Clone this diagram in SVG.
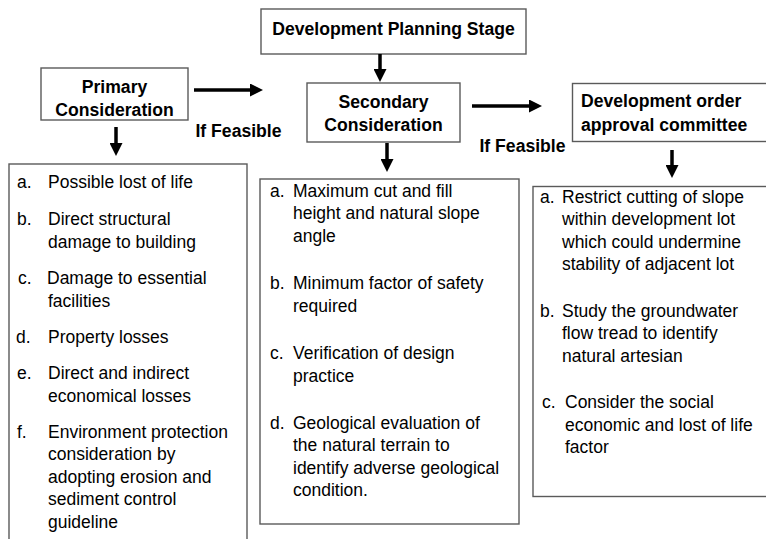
<svg xmlns="http://www.w3.org/2000/svg" width="766" height="539" viewBox="0 0 766 539">
<defs>
<marker id="ah" markerUnits="userSpaceOnUse" markerWidth="13" markerHeight="13" refX="1" refY="6.5" orient="auto">
<path d="M0,0 L13,6.5 L0,13 z" fill="#000"/>
</marker>
<style>
.box{fill:#fff;stroke:#5a5a5a;stroke-width:1.4}
.title{font-family:"Liberation Sans",Arial,sans-serif;font-weight:bold;font-size:17.6px;fill:#000}
.item{font-family:"Liberation Sans",Arial,sans-serif;font-size:17.5px;fill:#000}
.conn{stroke:#000;stroke-width:3.5;fill:none;marker-end:url(#ah)}
</style>
</defs>
<rect width="766" height="539" fill="#fff"/>

<g id="planning">
<rect class="box" x="261" y="9" width="265" height="45"/>
<text class="title" x="393.5" y="35" text-anchor="middle">Development Planning Stage</text>
</g>

<g id="primary">
<rect class="box" x="41" y="68" width="147" height="52"/>
<text class="title" x="114.5" y="93" text-anchor="middle">Primary</text>
<text class="title" x="114.5" y="115.5" text-anchor="middle">Consideration</text>
</g>

<g id="secondary">
<rect class="box" x="307" y="83" width="153" height="59"/>
<text class="title" x="383.5" y="108" text-anchor="middle">Secondary</text>
<text class="title" x="383.5" y="131" text-anchor="middle">Consideration</text>
</g>

<g id="committee">
<rect class="box" x="572.5" y="83.5" width="200" height="58"/>
<text class="title" x="581" y="107">Development order</text>
<text class="title" x="581" y="131">approval committee</text>
</g>

<g id="label1">
<text class="title" x="238.5" y="136.5" text-anchor="middle">If Feasible</text>
</g>
<g id="label2">
<text class="title" x="522.5" y="151.5" text-anchor="middle">If Feasible</text>
</g>

<g id="primary-list">
<rect class="box" x="9" y="164" width="238" height="390"/>
<g class="item">
<text x="17" y="188">a.</text><text x="48" y="188">Possible lost of life</text>
<text x="17" y="225">b.</text><text x="48" y="225">Direct structural</text>
<text x="48" y="247.5">damage to building</text>
<text x="18" y="284">c.</text><text x="47" y="284">Damage to essential</text>
<text x="48" y="306.5">facilities</text>
<text x="16" y="343">d.</text><text x="48" y="343">Property losses</text>
<text x="17" y="379">e.</text><text x="48" y="379">Direct and indirect</text>
<text x="48" y="401.5">economical losses</text>
<text x="17" y="437.5">f.</text><text x="48" y="437.5">Environment protection</text>
<text x="48" y="460">consideration by</text>
<text x="48" y="482.5">adopting erosion and</text>
<text x="48" y="505">sediment control</text>
<text x="48" y="527.5">guideline</text>
</g>
</g>

<g id="secondary-list">
<rect class="box" x="260" y="179" width="259" height="345"/>
<g class="item">
<text x="270" y="196.5">a.</text><text x="293" y="196.5">Maximum cut and fill</text>
<text x="293" y="219">height and natural slope</text>
<text x="293" y="241.5">angle</text>
<text x="270" y="289">b.</text><text x="293" y="289">Minimum factor of safety</text>
<text x="293" y="311.5">required</text>
<text x="270" y="359">c.</text><text x="293" y="359">Verification of design</text>
<text x="293" y="381.5">practice</text>
<text x="270" y="428.5">d.</text><text x="293" y="428.5">Geological evaluation of</text>
<text x="293" y="451">the natural terrain to</text>
<text x="293" y="473.5">identify adverse geological</text>
<text x="293" y="496">condition.</text>
</g>
</g>

<g id="committee-list">
<rect class="box" x="533" y="186.5" width="240" height="310"/>
<g class="item">
<text x="540" y="202.5">a.</text><text x="562" y="202.5">Restrict cutting of slope</text>
<text x="562" y="225">within development lot</text>
<text x="562" y="247.5">which could undermine</text>
<text x="562" y="270">stability of adjacent lot</text>
<text x="540" y="316.5">b.</text><text x="562" y="316.5">Study the groundwater</text>
<text x="562" y="339">flow tread to identify</text>
<text x="562" y="361.5">natural artesian</text>
<text x="542" y="408">c.</text><text x="565" y="408">Consider the social</text>
<text x="565" y="430.5">economic and lost of life</text>
<text x="565" y="453">factor</text>
</g>
</g>

<g id="connectors">
<line class="conn" x1="380" y1="54" x2="380" y2="70"/>
<line class="conn" x1="116" y1="127" x2="116" y2="144"/>
<line class="conn" x1="387" y1="143" x2="387" y2="160"/>
<line class="conn" x1="672" y1="150" x2="672" y2="166"/>
<line class="conn" x1="194" y1="90" x2="251" y2="90"/>
<line class="conn" x1="472" y1="106" x2="530" y2="106"/>
</g>
</svg>
